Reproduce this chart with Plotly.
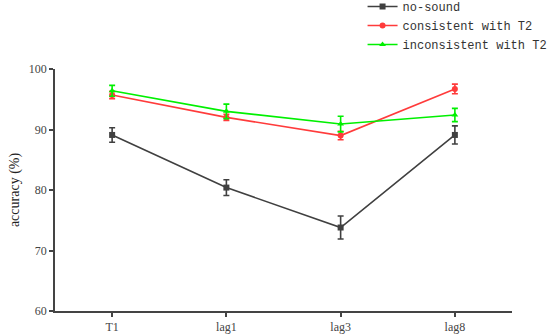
import plotly.graph_objects as go

categories = ["T1", "lag1", "lag3", "lag8"]
no_sound = [89.1, 80.4, 73.8, 89.1]
no_sound_err = [1.2, 1.3, 1.9, 1.5]
consistent = [95.7, 92.0, 89.0, 96.7]
consistent_err = [0.6, 0.5, 0.7, 0.8]
inconsistent = [96.4, 93.0, 90.9, 92.4]
inconsistent_err = [0.9, 1.2, 1.3, 1.1]
y_ticks = [60, 70, 80, 90, 100]

series = [
    ("no-sound", no_sound, no_sound_err, "#404040", "square"),
    ("consistent with T2", consistent, consistent_err, "#ff3b3b", "circle"),
    ("inconsistent with T2", inconsistent, inconsistent_err, "#00f000", "triangle-up"),
]

fig = go.Figure()
for name, vals, errs, color, sym in series:
    fig.add_trace(go.Scatter(
        x=categories, y=vals, name=name, mode="lines+markers",
        line=dict(color=color, width=1.6),
        marker=dict(symbol=sym, size=6, color=color),
        error_y=dict(type="data", array=errs, visible=True, color=color,
                     thickness=1.6, width=3),
    ))

axis_font = dict(family="Liberation Serif, Times New Roman, serif", size=12, color="#444")
fig.update_layout(
    width=550, height=334,
    margin=dict(l=55, r=38, t=69, b=23, autoexpand=False),
    paper_bgcolor="white", plot_bgcolor="white",
    showlegend=True,
    legend=dict(x=0.673, y=1.318, xanchor="left", yanchor="top",
                font=dict(family="Liberation Mono, monospace", size=12, color="#333"),
                bgcolor="rgba(0,0,0,0)", itemwidth=30, tracegroupgap=0),
    xaxis=dict(range=[-0.5, 3.5], showline=True, linecolor="#444", linewidth=1.5,
               ticks="outside", ticklen=4, tickcolor="#444", tickwidth=1.5,
               showgrid=False, zeroline=False, tickfont=axis_font, automargin=False,
               tickmode="array", tickvals=[0, 1, 2, 3], ticktext=categories),
    yaxis=dict(range=[60, 100], showline=True, linecolor="#444", linewidth=1.5,
               ticks="outside", ticklen=4, tickcolor="#444", tickwidth=1.5,
               showgrid=False, zeroline=False, tickfont=axis_font, automargin=False,
               tickvals=y_ticks,
               title=dict(text="accuracy (%)", font=dict(family="Liberation Serif, Times New Roman, serif", size=14, color="#222"), standoff=6)),
)
fig.write_html("out.html", config={"displayModeBar": False},
               post_script="document.body.style.margin='0';")
